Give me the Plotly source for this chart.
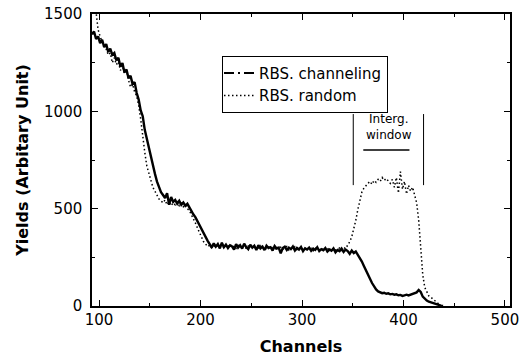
import plotly.graph_objects as go

# Channel numbers (every second channel)
ch_channeling = list(range(93, 441, 2))
ch_random = list(range(95, 441, 2))

# RBS channeling yields
yield_channeling = [
    1395, 1410, 1372, 1385, 1350, 1368, 1330, 1345, 1305, 1322,   # 93-111
    1290, 1300, 1262, 1275, 1230, 1248, 1200, 1215, 1170, 1182,   # 113-131
    1140, 1150, 1095, 1060, 1005, 975, 905, 860, 800, 755,        # 133-151
    715, 680, 640, 615, 585, 570, 555, 580, 520, 560,             # 153-171
    535, 545, 525, 540, 520, 532, 515, 525, 505, 490,             # 173-191
    470, 455, 435, 410, 395, 370, 355, 335, 318, 300,             # 193-211
    322, 305, 318, 296, 325, 302, 315, 298, 312, 306,             # 213-231
    290, 318, 300, 312, 295, 320, 303, 292, 315, 300,             # 233-251
    310, 288, 312, 296, 305, 287, 310, 298, 302, 285,             # 253-271
    308, 295, 300, 270, 298, 305, 288, 300, 292, 306,             # 273-291
    285, 298, 290, 303, 282, 296, 290, 300, 284, 295,             # 293-311
    288, 302, 282, 292, 286, 298, 280, 290, 284, 296,             # 313-331
    276, 288, 282, 295, 278, 290, 282, 268, 285, 272,             # 333-351
    280, 262, 250, 228, 205, 185, 168, 140, 118, 98,              # 353-371
    85, 75, 70, 66, 68, 63, 65, 60, 62, 58,                       # 373-391
    60, 55, 57, 52, 55, 58, 54, 58, 60, 62,                       # 393-411
    70, 82, 72, 48, 35, 28, 22, 18, 14, 10,                       # 413-431
    7, 4, 2, 0,                                                   # 433-439
]

# RBS random yields
yield_random = [
    1600, 1520, 1420, 1385, 1355, 1340, 1320, 1290, 1300, 1250,   # 95-113
    1275, 1240, 1255, 1210, 1235, 1195, 1210, 1160, 1125, 1140,   # 115-133
    1100, 1080, 1030, 960, 860, 790, 720, 680, 640, 610,          # 135-153
    590, 565, 550, 540, 530, 545, 520, 535, 515, 530,             # 155-173
    520, 535, 515, 528, 510, 520, 500, 490, 470, 450,             # 175-193
    425, 400, 375, 350, 330, 318, 305, 312, 298, 310,             # 195-213
    300, 315, 305, 320, 298, 310, 302, 318, 300, 308,             # 215-233
    296, 312, 305, 300, 316, 294, 308, 300, 312, 292,             # 235-253
    306, 298, 310, 295, 304, 290, 312, 296, 300, 288,             # 255-273
    305, 294, 302, 290, 300, 306, 288, 298, 292, 304,             # 275-293
    290, 300, 285, 298, 294, 302, 288, 296, 284, 300,             # 295-313
    292, 288, 298, 284, 294, 290, 300, 282, 296, 288,             # 315-333
    292, 298, 286, 300, 295, 310, 330, 355, 395, 440,             # 335-353
    495, 545, 585, 605, 620, 630, 640, 625, 645, 635,             # 355-373
    650, 640, 660, 645, 655, 640, 630, 650, 610, 660,             # 375-393
    580, 690, 600, 640, 575, 620, 590, 610, 570, 530,             # 395-413
    440, 290, 160, 95, 70, 52, 45, 35, 28, 18,                    # 415-433
    8, 0,                                                         # 435-437
]
ch_random = ch_random[:len(yield_random)]
ch_channeling = ch_channeling[:len(yield_channeling)]

x_ticks = [100, 200, 300, 400, 500]
y_ticks = [0, 500, 1000, 1500]

FONT = "DejaVu Sans"

fig = go.Figure()
fig.add_trace(go.Scatter(x=ch_random, y=yield_random, mode="lines",
                         line=dict(color="black", width=1.5, dash="1.5px,2.5px"),
                         showlegend=False))
fig.add_trace(go.Scatter(x=ch_channeling, y=yield_channeling, mode="lines",
                         line=dict(color="black", width=2.4),
                         showlegend=False))
# legend entries
fig.add_trace(go.Scatter(x=[None], y=[None], mode="lines", name="RBS. channeling",
                         line=dict(color="black", width=2, dash="10px,4px,2px,4px")))
fig.add_trace(go.Scatter(x=[None], y=[None], mode="lines", name="RBS. random",
                         line=dict(color="black", width=1.5, dash="1.5px,2.5px")))

# integration window marks
fig.add_shape(type="line", x0=350.5, x1=350.5, y0=621, y1=986,
              line=dict(color="black", width=1))
fig.add_shape(type="line", x0=419.8, x1=419.8, y0=621, y1=986,
              line=dict(color="black", width=1))
fig.add_shape(type="line", x0=360.4, x1=405.9, y0=801, y1=801,
              line=dict(color="black", width=1.5))
fig.add_annotation(x=386, y=920, text="Interg.<br>window", showarrow=False,
                   font=dict(family=FONT, size=12, color="black"))

axis_common = dict(showline=True, linecolor="black", linewidth=1.5, mirror="ticks",
                   ticks="inside", ticklen=6, tickwidth=1.2, tickcolor="black",
                   showgrid=False, zeroline=False, automargin=False,
                   tickfont=dict(family=FONT, size=15, color="black"))

fig.update_xaxes(range=[93, 505], tickvals=x_ticks, ticklabelstandoff=-1,
                 minor=dict(dtick=50, tick0=0, ticks="inside", ticklen=3,
                            tickcolor="black", tickwidth=1),
                 title=dict(text="<b>Channels</b>", standoff=14,
                            font=dict(family=FONT, size=16, color="black")),
                 **axis_common)
fig.update_yaxes(range=[0, 1500], tickvals=y_ticks, ticklabelstandoff=5,
                 minor=dict(dtick=250, tick0=0, ticks="inside", ticklen=3,
                            tickcolor="black", tickwidth=1),
                 title=dict(text="<b>Yields (Arbitary Unit)</b>", standoff=11,
                            font=dict(family=FONT, size=16, color="black")),
                 **axis_common)

fig.update_layout(
    width=532, height=356,
    margin=dict(l=92, r=22, t=14, b=50),
    paper_bgcolor="white", plot_bgcolor="white",
    legend=dict(x=0.311, y=0.857, xanchor="left", yanchor="top",
                bordercolor="black", borderwidth=1, bgcolor="white",
                font=dict(family=FONT, size=15, color="black"),
                itemwidth=30, tracegroupgap=0, indentation=-4),
)

fig.write_html("out.html")
